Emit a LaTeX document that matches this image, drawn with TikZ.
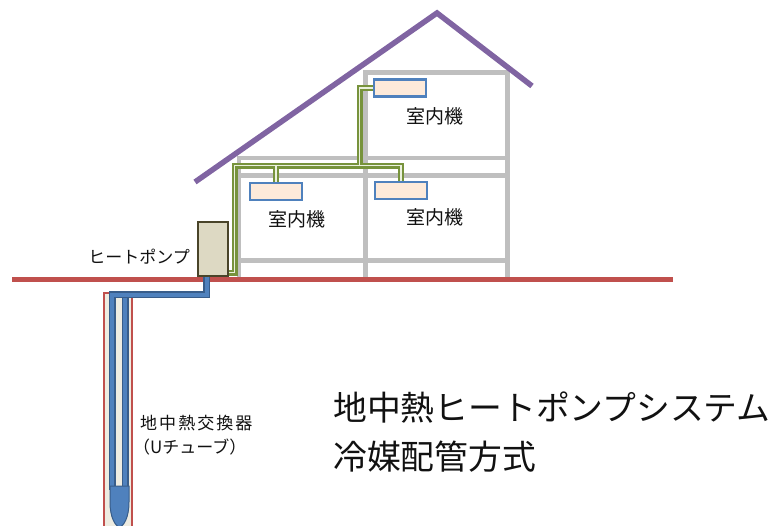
\documentclass[tikz,border=0pt]{standalone}
\usepackage{fontspec}
\setmainfont{Noto Sans CJK JP}
\usetikzlibrary{calc}
\definecolor{roofc}{HTML}{8064A2}
\definecolor{framec}{HTML}{BFBFBF}
\definecolor{groundc}{HTML}{C0504D}
\definecolor{pipeg}{HTML}{77933C}
\definecolor{pipegin}{HTML}{EBF1DE}
\definecolor{unitfill}{HTML}{FDEADA}
\definecolor{unitdraw}{HTML}{4F81BD}
\definecolor{hpfill}{HTML}{DDD9C3}
\definecolor{hpdraw}{HTML}{494429}
\definecolor{tubeblue}{HTML}{4F81BD}
\definecolor{tubedark}{HTML}{385D8A}
\definecolor{holefill}{HTML}{EEECE1}
\definecolor{textc}{HTML}{111111}
\begin{document}
\begin{tikzpicture}[x=1pt,y=-1pt,
  frame/.style={draw=framec,line width=4.5pt},
  roof/.style={draw=roofc,line width=5.5pt},
  ground/.style={draw=groundc,line width=5pt},
  unit/.style={draw=unitdraw,fill=unitfill,line width=2.5pt,inner sep=0pt,
    minimum width=52pt,minimum height=17pt},
  heatpump/.style={draw=hpdraw,fill=hpfill,line width=2pt,inner sep=0pt,
    minimum width=30pt,minimum height=54pt},
  gout/.style={draw=pipeg,line width=6pt},
  gin/.style={draw=pipegin,line width=1.5pt},
  bout/.style={draw=tubedark,line width=7pt},
  bin/.style={draw=tubeblue,line width=4pt},
  roomlabel/.style={text=textc,inner sep=0pt,font=\fontsize{19}{22}\selectfont},
  smalllabel/.style={text=textc,inner sep=0pt,font=\fontsize{17}{20}\selectfont},
  titlelabel/.style={text=textc,inner sep=0pt,anchor=west,font=\fontsize{33.8}{40}\selectfont}
]
\useasboundingbox (0,0) rectangle (775,525);

% house frame
\draw[frame] (365.5,175.5) -- (365.5,72.5) -- (507.5,72.5) -- (507.5,278);
\draw[frame] (239,278) -- (239,158) -- (507.5,158);
\draw[frame] (239,175.5) -- (507.5,175.5);
\draw[frame] (365.5,158) -- (365.5,278);
\draw[frame] (239,260.5) -- (507.5,260.5);

% roof
\draw[roof] (195,182) -- (437,13) -- (532,86);

% borehole
\draw[draw=groundc,fill=holefill,line width=2pt] (104,292.5) rectangle (132,530);

% ground
\draw[ground] (12,279.5) -- (673,279.5);

% heat pump and indoor units
\node[heatpump] (hp) at (212.5,248.5) {};
\node[unit] (unitU) at (400,88) {};
\node[unit] (unitL) at (276,191.5) {};
\node[unit] (unitR) at (401,190.5) {};

% refrigerant piping
\coordinate (hpout) at ($(hp.south east)+(0,-4)$);
\coordinate (riser) at (234.5,165.5);
\coordinate (tee) at (359.5,165.5);
\foreach \s in {gout,gin}{
  \draw[\s] (hpout) -| (riser) -| (unitR.north);
  \draw[\s] (unitL.north |- riser) -- (unitL.north);
  \draw[\s] (tee) |- (unitU.west);
}
% redraw units over pipe ends
\node[unit] at (unitU) {};
\node[unit] at (unitL) {};
\node[unit] at (unitR) {};

% ground loop (U-tube)
\coordinate (hpdown) at ($(hp.south)+(-6,0)$);
\coordinate (bend) at (112,294.5);
\coordinate (legL) at (112,490);
\coordinate (legRtop) at (125,297.5);
\coordinate (legR) at (125,490);
\foreach \s in {bout,bin}{
  \draw[\s] (hpdown) |- (bend) -- (legL);
  \draw[\s] (legRtop) -- (legR);
}
\draw[fill=tubeblue,draw=tubedark,line width=1pt]
  (110,486) -- (110,502) .. controls (110,517) and (115,526) .. (119.5,527)
  .. controls (124,526) and (129,517) .. (129,502) -- (129,486) -- cycle;

% labels
\node[roomlabel] (lblU) at (435,116) {室内機};
\node[roomlabel] (lblL) at (297,219) {室内機};
\node[roomlabel] (lblR) at (435,217) {室内機};
\node[smalllabel] (lblHP) at (139,257) {ヒートポンプ};
\node[smalllabel,anchor=west] (lblGX) at (140,423)
  {\addfontfeature{LetterSpace=12}地中熱交換器};
\node[smalllabel,anchor=west] (lblUT) at (133,447) {（Uチューブ）};
\node[titlelabel] (title1) at (333,408) {地中熱ヒートポンプシステム};
\node[titlelabel] (title2) at (333,457) {冷媒配管方式};
\end{tikzpicture}
\end{document}
